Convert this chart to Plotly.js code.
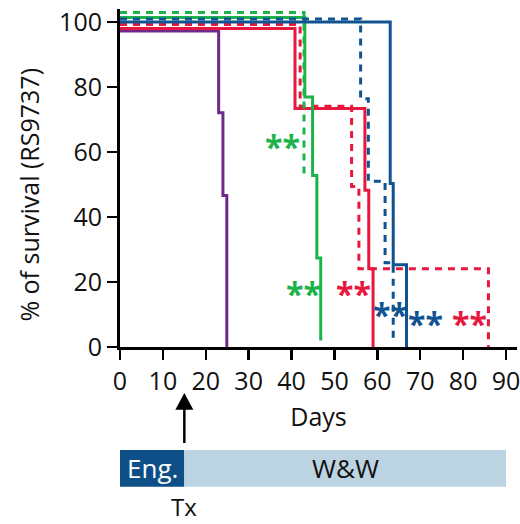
<!DOCTYPE html>
<html>
<head>
<meta charset="utf-8">
<script src="https://cdn.plot.ly/plotly-3.0.1.min.js"></script>
<style>html,body{margin:0;padding:0;background:#fff}#chart{width:520px;height:524px}</style>
</head>
<body>
<div id="chart"></div>
<script>
// ---- data ----
// Kaplan-Meier step curves (values slightly offset in the original so overlapping lines stay visible)
const purpleDays = [0, 23.0, 24.0, 24.9];
const purpleSurv = [97.2, 72.1, 46.6, 0];

const redSolidDays = [0, 40.8, 57.1, 58.0, 59.0];
const redSolidSurv = [98.0, 73.4, 48.2, 24.1, 0];

const redDashDays = [0, 42.0, 54.0, 55.7, 85.9];
const redDashSurv = [99.2, 74.1, 49.4, 24.1, 0];

const greenSolidDays = [0, 43.1, 44.9, 45.9, 46.8];
const greenSolidSurv = [101.4, 76.9, 52.8, 27.4, 2.0];

const greenDashDays = [0, 42.9, 43.9];
const greenDashSurv = [102.9, 53.1, 53.1];

const blueSolidDays = [0, 63.0, 63.7, 66.8];
const blueSolidSurv = [100.0, 50.3, 25.3, 0];

const blueDashDays = [0, 56.1, 57.9, 61.8, 63.7];
const blueDashSurv = [100.9, 76.4, 51.0, 25.9, 2.0];

// significance marks
const starText = ["**", "**", "**", "**", "**", "**"];
const starDays = [37.8, 42.8, 54.4, 63.0, 71.3, 81.5];
const starPct  = [62.4, 17.1, 17.1, 10.5, 7.9, 7.9];
const starGroup = ["green", "green", "red", "blue", "blue", "red"];

// axis ticks
const xTicks = [0, 10, 20, 30, 40, 50, 60, 70, 80, 90];
const yTicks = [0, 20, 40, 60, 80, 100];

// treatment schedule bar
const phaseNames = ["Eng.", "W&W"];
const phaseStart = [0, 15];
const phaseEnd = [15, 90];
const txDay = 15;

// ---- styles ----
const COL = {purple: "#6d2a8c", red: "#e8173e", green: "#1db34b", blue: "#0f5491"};
const FONT = "Open Sans, Noto Sans, sans-serif";
const DASH = "7px,6px";

function km(x, y, color, dashed) {
  return {
    x: x, y: y, type: "scatter", mode: "lines",
    line: {shape: "hv", color: color, width: 3, dash: dashed ? DASH : "solid"},
    hoverinfo: "skip", showlegend: false
  };
}

const traces = [
  km(purpleDays, purpleSurv, COL.purple, false),
  km(redSolidDays, redSolidSurv, COL.red, false),
  km(redDashDays, redDashSurv, COL.red, true),
  km(greenSolidDays, greenSolidSurv, COL.green, false),
  km(greenDashDays, greenDashSurv, COL.green, true),
  km(blueSolidDays, blueSolidSurv, COL.blue, false),
  km(blueDashDays, blueDashSurv, COL.blue, true)
];

const annotations = starText.map((t, i) => ({
  x: starDays[i], y: starPct[i], xref: "x", yref: "y",
  text: "<b>" + t + "</b>", showarrow: false, yshift: -2,
  font: {family: FONT, size: 32, color: COL[starGroup[i]]}
}));

// y-axis title as rotated annotation for exact placement
annotations.push({
  xref: "paper", yref: "paper", x: -0.23, y: 0.45, xanchor: "center", yanchor: "middle",
  text: "% of survival (RS9737)", textangle: -90, showarrow: false,
  font: {family: FONT, size: 25, color: "#111"}
});

const barColors = ["#0d4f86", "#bcd4e1"];
const barTextColors = ["#ffffff", "#111111"];
const shapes = [];
phaseNames.forEach((n, i) => {
  shapes.push({type: "rect", xref: "x", yref: "paper", x0: phaseStart[i], x1: phaseEnd[i],
    y0: -0.4133, y1: -0.3047, fillcolor: barColors[i], line: {width: 0}, layer: "above"});
  annotations.push({xref: "x", yref: "paper", x: (phaseStart[i] + phaseEnd[i]) / 2, y: -0.358,
    text: n, showarrow: false, xanchor: "center", yanchor: "middle",
    font: {family: FONT, size: 26, color: barTextColors[i]}});
});
// Tx arrow
shapes.push({type: "line", xref: "x", yref: "paper", x0: txDay, x1: txDay, y0: -0.284, y1: -0.17,
  line: {color: "#000", width: 2.5}});
shapes.push({type: "path", xref: "x", yref: "paper",
  path: `M ${txDay - 2.1},-0.186 L ${txDay + 2.1},-0.186 L ${txDay},-0.136 Z`,
  fillcolor: "#000", line: {width: 0}});
annotations.push({xref: "x", yref: "paper", x: txDay, y: -0.472, text: "Tx", showarrow: false,
  xanchor: "center", yanchor: "middle", font: {family: FONT, size: 24, color: "#111"}});

const layout = {
  width: 520, height: 524,
  margin: {l: 120, r: 3, t: 9, b: 177},
  paper_bgcolor: "#fff", plot_bgcolor: "#fff",
  showlegend: false,
  xaxis: {
    range: [0, 92.56], tickvals: xTicks, ticktext: xTicks.map(String),
    showgrid: false, zeroline: false, showline: true, linecolor: "#000", linewidth: 3,
    ticks: "outside", ticklen: 10, tickwidth: 2.5, tickcolor: "#000",
    ticklabeloverflow: "allow",
    tickfont: {family: FONT, size: 25, color: "#111"},
    title: {text: "Days", font: {family: FONT, size: 25, color: "#111"}, standoff: 13}
  },
  yaxis: {
    range: [0, 104], tickvals: yTicks, ticktext: yTicks.map(String),
    showgrid: false, zeroline: false, showline: true, linecolor: "#000", linewidth: 3,
    ticks: "outside", ticklen: 10, tickwidth: 2.5, tickcolor: "#000",
    tickfont: {family: FONT, size: 25, color: "#111"}
  },
  annotations: annotations,
  shapes: shapes
};

Plotly.newPlot("chart", traces, layout, {staticPlot: true, displayModeBar: false});
</script>
</body>
</html>
